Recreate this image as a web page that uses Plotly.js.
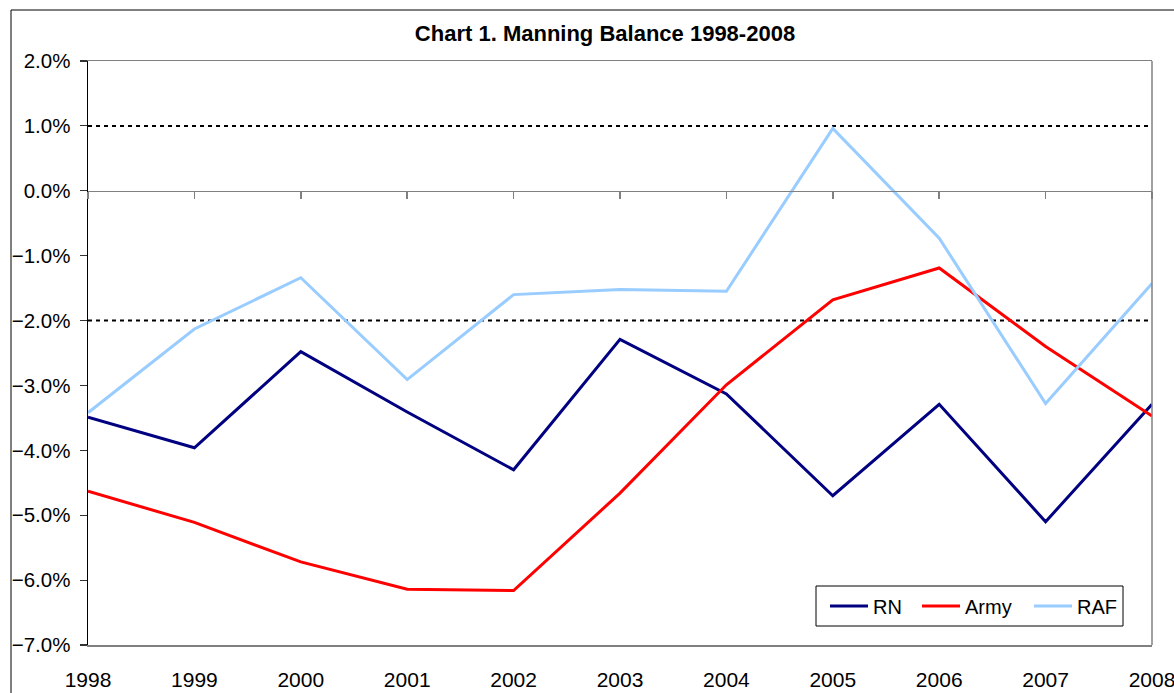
<!DOCTYPE html>
<html>
<head>
<meta charset="utf-8">
<script src="https://cdn.plot.ly/plotly-3.0.1.min.js"></script>
<style>html,body{margin:0;padding:0;background:#fff;}#chart{width:1174px;height:693px;}</style>
</head>
<body>
<div id="chart"></div>
<script>
// ---- data ----
const years = [1998, 1999, 2000, 2001, 2002, 2003, 2004, 2005, 2006, 2007, 2008];
const rn    = [-0.0349, -0.0396, -0.0248, -0.0341, -0.0430, -0.0229, -0.0313, -0.0470, -0.0329, -0.0510, -0.0329];
const army  = [-0.0463, -0.0511, -0.0572, -0.0614, -0.0616, -0.0466, -0.0299, -0.0168, -0.0119, -0.0240, -0.0347];
const raf   = [-0.0342, -0.0213, -0.0134, -0.0291, -0.0160, -0.0152, -0.0155, 0.0096, -0.0073, -0.0328, -0.0143];
const seriesNames = ['RN', 'Army', 'RAF'];
const refLines = [0.01, -0.02];
const chartTitle = 'Chart 1. Manning Balance 1998-2008';

// ---- styling ----
const FONT = 'Liberation Sans, Arial, sans-serif';
const colors = ['#000080', '#FF0000', '#99CCFF'];
const seriesData = [rn, army, raf];

const W = 1174, H = 693;
const L = 88, R = 22, T = 61, B = 48;
const pw = W - L - R, ph = H - T - B;
const px = (x) => (x - L) / pw;          // pixel -> paper x
const py = (y) => (H - B - y) / ph;      // pixel -> paper y

const legendX = [825, 917, 1029];
const traces = seriesData.map((d, i) => ({
  type: 'scatter', mode: 'lines', x: years, y: d, name: seriesNames[i],
  line: {color: colors[i], width: 3},
  legend: i === 0 ? 'legend' : ('legend' + (i + 1)),
  hoverinfo: 'skip'
}));
// carrier for the zero-line axis with category ticks
traces.push({type: 'scatter', mode: 'lines', x: years, y: years.map(() => null), xaxis: 'x2', showlegend: false, hoverinfo: 'skip'});

const shapes = refLines.map(v => ({
  type: 'line', xref: 'paper', yref: 'y', x0: 0, x1: 1, y0: v, y1: v,
  line: {color: '#000000', width: 2, dash: '4px,4px'}, layer: 'below'
}));
// right edge of plot area (grey)
shapes.push({type: 'line', xref: 'paper', yref: 'paper', x0: 1, x1: 1, y0: 0, y1: 1, line: {color: '#808080', width: 1.5}});
// legend box
shapes.push({type: 'rect', xref: 'paper', yref: 'paper', x0: px(816), x1: px(1123), y0: py(626), y1: py(586), line: {color: '#000000', width: 1}, fillcolor: 'rgba(0,0,0,0)'});
// outer chart-area border
shapes.push({type: 'rect', xref: 'paper', yref: 'paper', x0: px(11), x1: px(1200), y0: py(720), y1: py(10), line: {color: '#000000', width: 1}, fillcolor: 'rgba(0,0,0,0)'});

const legendCommon = {
  orientation: 'h', xanchor: 'left', yanchor: 'middle', y: py(606),
  bgcolor: 'rgba(0,0,0,0)', borderwidth: 0, itemwidth: 38,
  font: {family: FONT, size: 20, color: '#000000'}
};

const layout = {
  width: W, height: H,
  margin: {l: L, r: R, t: T, b: B, pad: 0},
  paper_bgcolor: '#ffffff', plot_bgcolor: '#ffffff',
  showlegend: true,
  title: {
    text: '<b>' + chartTitle + '</b>',
    font: {family: FONT, size: 22, color: '#000000'},
    xref: 'container', yref: 'container', x: 605 / W, xanchor: 'center', y: 1 - 33 / H, yanchor: 'middle'
  },
  xaxis: {
    type: 'linear', range: [years[0], years[years.length - 1]],
    tickvals: years, ticktext: years.map(String), ticks: '',
    showgrid: false, zeroline: false,
    showline: true, linecolor: '#808080', linewidth: 1.5, mirror: true,
    tickfont: {family: FONT, size: 21, color: '#000000'},
    ticklabelstandoff: 15, ticklabeloverflow: 'allow'
  },
  xaxis2: {
    type: 'linear', range: [years[0], years[years.length - 1]], overlaying: 'x',
    anchor: 'free', position: py(190.8), side: 'bottom',
    tickvals: years, ticks: 'outside', ticklen: 7, tickwidth: 1.5, tickcolor: '#808080',
    showticklabels: false, showgrid: false, zeroline: false,
    showline: true, linecolor: '#808080', linewidth: 1.5
  },
  yaxis: {
    range: [-0.07, 0.02], dtick: 0.01, tick0: 0, tickformat: '.1%',
    ticks: 'outside', ticklen: 7, tickwidth: 1.2, tickcolor: '#333333',
    showgrid: false, zeroline: false,
    showline: true, linecolor: '#000000', linewidth: 1.5,
    tickfont: {family: FONT, size: 20.5, color: '#000000'},
    ticklabelstandoff: 5
  },
  legend: Object.assign({}, legendCommon, {x: px(legendX[0])}),
  legend2: Object.assign({}, legendCommon, {x: px(legendX[1])}),
  legend3: Object.assign({}, legendCommon, {x: px(legendX[2])}),
  shapes: shapes
};

Plotly.newPlot('chart', traces, layout, {displayModeBar: false, staticPlot: true});
</script>
</body>
</html>
